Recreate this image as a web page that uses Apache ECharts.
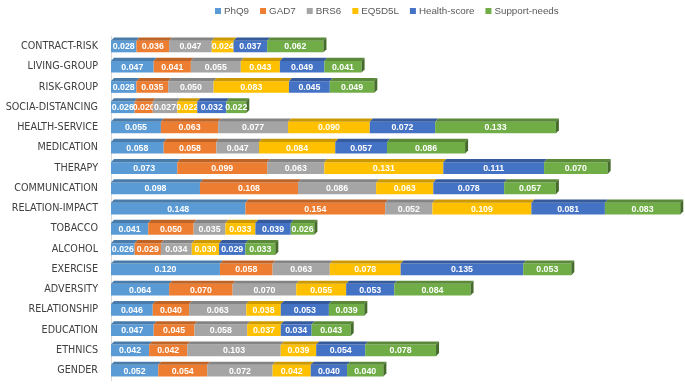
<!DOCTYPE html>
<html>
<head>
<meta charset="utf-8">
<script src="https://cdn.jsdelivr.net/npm/echarts@6/dist/echarts.min.js"></script>
<style>html,body{margin:0;padding:0;background:#fff}#main{width:685px;height:386px}</style>
</head>
<body>
<div id="main"></div>
<script>
// categories, top to bottom
var categories = ['CONTRACT-RISK', 'LIVING-GROUP', 'RISK-GROUP', 'SOCIA-DISTANCING', 'HEALTH-SERVICE',
    'MEDICATION', 'THERAPY', 'COMMUNICATION', 'RELATION-IMPACT', 'TOBACCO', 'ALCOHOL', 'EXERCISE',
    'ADVERSITY', 'RELATIONSHIP', 'EDUCATION', 'ETHNICS', 'GENDER'];
var seriesNames = ['PhQ9', 'GAD7', 'BRS6', 'EQ5D5L', 'Health-score', 'Support-needs'];
var colors = ['#5b9bd5', '#ed7d31', '#a5a5a5', '#ffc000', '#4472c4', '#70ad47'];

var phq9 = [0.028, 0.047, 0.028, 0.026, 0.055, 0.058, 0.073, 0.098, 0.148, 0.041, 0.026, 0.120, 0.064, 0.046, 0.047, 0.042, 0.052];
var gad7 = [0.036, 0.041, 0.035, 0.020, 0.063, 0.058, 0.099, 0.108, 0.154, 0.050, 0.029, 0.058, 0.070, 0.040, 0.045, 0.042, 0.054];
var brs6 = [0.047, 0.055, 0.050, 0.027, 0.077, 0.047, 0.063, 0.086, 0.052, 0.035, 0.034, 0.063, 0.070, 0.063, 0.058, 0.103, 0.072];
var eq5d5l = [0.024, 0.043, 0.083, 0.022, 0.090, 0.084, 0.131, 0.063, 0.109, 0.033, 0.030, 0.078, 0.055, 0.038, 0.037, 0.039, 0.042];
var healthScore = [0.037, 0.049, 0.045, 0.032, 0.072, 0.057, 0.111, 0.078, 0.081, 0.039, 0.029, 0.135, 0.053, 0.053, 0.034, 0.054, 0.040];
var supportNeeds = [0.062, 0.041, 0.049, 0.022, 0.133, 0.086, 0.070, 0.057, 0.083, 0.026, 0.033, 0.053, 0.084, 0.039, 0.043, 0.078, 0.040];

var allValues = [phq9, gad7, brs6, eq5d5l, healthScore, supportNeeds];

// darker shade for the 3d faces
function shade(hex, f) {
    var n = parseInt(hex.slice(1), 16);
    var r = Math.round(((n >> 16) & 255) * f);
    var g = Math.round(((n >> 8) & 255) * f);
    var b = Math.round((n & 255) * f);
    return 'rgb(' + r + ',' + g + ',' + b + ')';
}

var BAR_H = 11.6, DX = 3, DY = 3.2;

function makeRender(si) {
    var isLast = si === allValues.length - 1;
    return function (params, api) {
        var start = api.value(0), end = api.value(1), idx = api.value(2), val = api.value(3);
        var p0 = api.coord([start, idx]);
        var p1 = api.coord([end, idx]);
        var x0 = p0[0], x1 = p1[0];
        var y0 = p0[1] - BAR_H / 2;
        var y1 = y0 + BAR_H;
        var col = colors[si];
        var dark = shade(col, 0.8);
        var kids = [
            {type: 'rect', shape: {x: x0, y: y0, width: x1 - x0, height: BAR_H}, style: {fill: col}},
            {type: 'polygon', shape: {points: [[x0, y0], [x1, y0], [x1 + DX, y0 - DY], [x0 + DX, y0 - DY]]},
                style: {fill: dark}}
        ];
        if (isLast) {
            kids.push({type: 'polygon', shape: {points: [[x1, y0], [x1 + DX, y0 - DY], [x1 + DX, y1 - DY], [x1, y1]]},
                style: {fill: shade(col, 0.62)}});
        }
        kids.push({type: 'text', x: (x0 + x1) / 2, y: (y0 + y1) / 2 + 0.5,
            style: {text: val.toFixed(3), fill: '#fff', align: 'center', verticalAlign: 'middle',
                font: 'bold 8.8px "Liberation Sans"'}});
        return {type: 'group', children: kids};
    };
}

var series = [];
var cum = categories.map(function () { return 0; });
for (var s = 0; s < allValues.length; s++) {
    var data = [];
    for (var i = 0; i < categories.length; i++) {
        var v = allValues[s][i];
        data.push([cum[i], cum[i] + v, i, v]);
        cum[i] += v;
    }
    series.push({
        name: seriesNames[s],
        type: 'custom',
        renderItem: makeRender(s),
        encode: {x: [0, 1], y: 2},
        itemStyle: {color: colors[s]},
        data: data,
        animation: false
    });
}

var myChart = echarts.init(document.getElementById('main'));
var option = {
    animation: false,
    color: colors,
    legend: {
        data: seriesNames,
        top: 1,
        left: 210,
        icon: 'rect',
        itemWidth: 6,
        itemHeight: 6,
        itemGap: 11,
        textStyle: {color: '#595959', fontSize: 9.8, fontFamily: 'Liberation Sans', padding: [0, 0, 0, -2]}
    },
    grid: {left: 111, right: 2, top: 36.4, bottom: 5.2},
    xAxis: {type: 'value', min: 0, max: 0.63, show: false},
    yAxis: {
        type: 'category',
        inverse: true,
        data: categories,
        offset: 2.5,
        axisLine: {show: true, lineStyle: {color: '#d9d9d9'}},
        axisTick: {show: false},
        axisLabel: {color: '#404040', fontSize: 9.6, fontFamily: 'DejaVu Sans', margin: 10.5}
    },
    series: series
};
myChart.setOption(option);
</script>
</body>
</html>
